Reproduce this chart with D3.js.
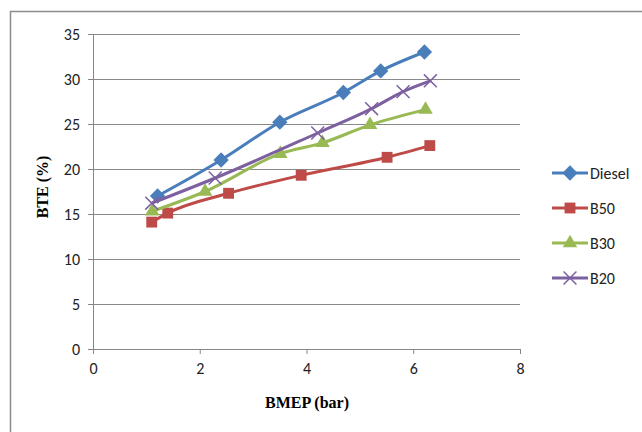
<!DOCTYPE html>
<html>
<head>
<meta charset="utf-8">
<script src="https://cdn.jsdelivr.net/npm/d3@7"></script>
<style>
  body { margin: 0; background: #fff; }
  .tick text { font-family: Carlito, Calibri, "Open Sans", sans-serif; font-size: 16px; fill: #222; }
</style>
</head>
<body>
<div id="chart"></div>
<script>
// data
let seriesNames = ["Diesel", "B50", "B30", "B20"];
let dieselX = [1.21, 2.40, 3.50, 4.69, 5.39, 6.21];
let dieselY = [17.0, 21.0, 25.2, 28.5, 30.9, 33.0];
let b50X = [1.10, 1.40, 2.54, 3.90, 5.51, 6.31];
let b50Y = [14.1, 15.1, 17.3, 19.3, 21.3, 22.6];
let b30X = [1.11, 2.10, 3.51, 4.30, 5.19, 6.23];
let b30Y = [15.3, 17.5, 21.7, 22.9, 24.9, 26.6];
let b20X = [1.10, 2.29, 4.21, 5.22, 5.81, 6.32];
let b20Y = [16.2, 19.0, 24.0, 26.7, 28.6, 29.8];
let xTicks = [0, 2, 4, 6, 8];
let yTicks = [0, 5, 10, 15, 20, 25, 30, 35];

let colors = ["#4A7EBB", "#BE4B48", "#98B954", "#7D60A0"];
let symbols = [d3.symbolDiamond2, d3.symbolSquare2, d3.symbolTriangle2, d3.symbolX];

let series = [
    {name: seriesNames[0], xs: dieselX, ys: dieselY},
    {name: seriesNames[1], xs: b50X, ys: b50Y},
    {name: seriesNames[2], xs: b30X, ys: b30Y},
    {name: seriesNames[3], xs: b20X, ys: b20Y}
];

let W = 642, H = 432;
let margin = {top: 34, left: 93};
let width = 427, height = 315;

let svg = d3.select('#chart')
    .append('svg')
    .attr('width', W)
    .attr('height', H);

// outer chart border
svg.append('rect')
    .attr('x', 10.5).attr('y', 11.5)
    .attr('width', 700).attr('height', 500)
    .attr('fill', 'none')
    .attr('stroke', '#8c8c8c')
    .attr('stroke-width', 1.5);

let g = svg.append('g')
    .attr('transform', 'translate(' + margin.left + ',' + margin.top + ')');

let xScale = d3.scaleLinear().domain([0, 8]).range([0, width]);
let yScale = d3.scaleLinear().domain([0, 35]).range([height, 0]);

// gridlines
g.selectAll('.grid')
    .data(yTicks.slice(1))
    .enter()
    .append('line')
    .attr('x1', 0).attr('x2', width)
    .attr('y1', function (d) { return Math.round(yScale(d)) + 0.5; })
    .attr('y2', function (d) { return Math.round(yScale(d)) + 0.5; })
    .attr('stroke', '#8a8a8a')
    .attr('stroke-width', 1);

let yAxis = g.append('g')
    .call(d3.axisLeft(yScale).tickValues(yTicks).tickSize(5).tickPadding(8));
let xAxis = g.append('g')
    .attr('transform', 'translate(0,' + height + ')')
    .call(d3.axisBottom(xScale).tickValues(xTicks).tickSize(5).tickPadding(9));

[xAxis, yAxis].forEach(function (a) {
    a.select('.domain').attr('stroke', '#868686');
    a.selectAll('.tick line').attr('stroke', '#868686');
});

let line = d3.line()
    .x(function (d) { return xScale(d[0]); })
    .y(function (d) { return yScale(d[1]); })
    .curve(d3.curveMonotoneX);

function drawMarker(sel, i) {
    let sizes = [150, 150, 150, 110];
    sel.attr('d', d3.symbol().type(symbols[i]).size(sizes[i]));
    if (i === 3) {
        sel.attr('fill', 'none').attr('stroke', colors[i]).attr('stroke-width', 1.5);
    } else {
        sel.attr('fill', colors[i]).attr('stroke', 'none');
    }
}

series.forEach(function (s, i) {
    let pts = s.xs.map(function (x, k) { return [x, s.ys[k]]; });
    g.append('path')
        .datum(pts)
        .attr('d', line)
        .attr('fill', 'none')
        .attr('stroke', colors[i])
        .attr('stroke-width', 3);
    g.selectAll('.m' + i)
        .data(pts)
        .enter()
        .append('path')
        .attr('transform', function (d) {
            return 'translate(' + xScale(d[0]) + ',' + yScale(d[1]) + ')';
        })
        .call(drawMarker, i);
});

// axis titles
svg.append('text')
    .attr('x', 307).attr('y', 408)
    .attr('text-anchor', 'middle')
    .attr('font-family', '"Liberation Serif", "Times New Roman", serif')
    .attr('font-weight', 'bold')
    .attr('font-size', 16)
    .text('BMEP (bar)');

svg.append('text')
    .attr('transform', 'translate(48,187) rotate(-90)')
    .attr('text-anchor', 'middle')
    .attr('font-family', '"Liberation Serif", "Times New Roman", serif')
    .attr('font-weight', 'bold')
    .attr('font-size', 16)
    .text('BTE (%)');

// legend
let legend = svg.append('g').attr('transform', 'translate(552,173)');
series.forEach(function (s, i) {
    let row = legend.append('g').attr('transform', 'translate(0,' + (i * 35) + ')');
    row.append('line')
        .attr('x1', 0).attr('x2', 36)
        .attr('stroke', colors[i])
        .attr('stroke-width', 3);
    row.append('path')
        .attr('transform', 'translate(18,0)')
        .call(drawMarker, i);
    row.append('text')
        .attr('x', 38).attr('y', 5.5)
        .attr('font-family', 'Carlito, Calibri, "Open Sans", sans-serif')
        .attr('font-size', 16)
        .attr('fill', '#222')
        .text(s.name);
});
</script>
</body>
</html>
